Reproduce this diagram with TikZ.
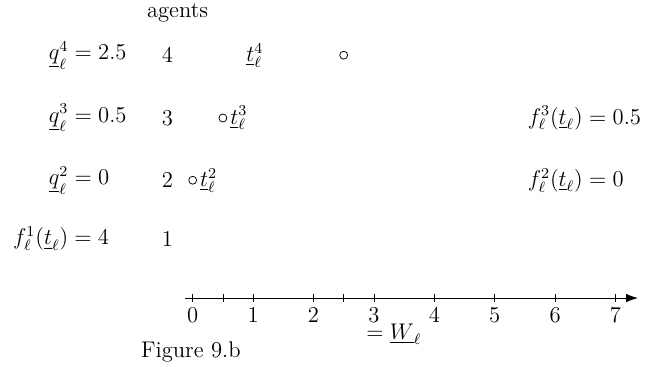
\documentclass[tikz,border=0pt,12pt]{standalone}
\usepackage{amsmath,amssymb}
\usetikzlibrary{arrows.meta,positioning}
\tikzset{
  lbl/.style={inner sep=1pt},
  lft/.style={lbl, anchor=west},
  pt/.style={draw, circle, inner sep=0pt, minimum size=4.2pt, thin},
  ax/.style={-{Latex[length=2.2mm, width=1.6mm]}, thin},
}
\begin{document}
\begin{tikzpicture}[x=1.125cm, y=1.125cm]
  \useasboundingbox (-3.19,-1.126) rectangle (7.687,4.934);
  % axis
  \coordinate (a0) at (-0.13,0);
  \coordinate (a1) at (7.37,0);
  \draw[ax] (a0) -- (a1);
  \foreach \x in {0,...,7} {
    \draw (\x,0.06) -- (\x,-0.06);
    \node[lbl] (tk\x) at (\x,-0.28) {$\x$};
  }
  \foreach \x in {0.5,2.5} \draw (\x,0.06) -- (\x,-0.06);
  \node[lbl] (wl) at (3.33,-0.6) {$=\underline{W}_\ell$};
  \node[lbl] (fig) at (-0.03,-0.9) {Figure 9.b};
  % agents
  \node[lbl] (agt) at (-0.25,4.72) {agents};
  \foreach \k/\y in {4/4.02,3/2.98,2/1.95,1/0.98}
    \node[lbl] (ag\k) at (-0.42,\y) {$\k$};
  % points
  \node[pt] (p4) at (2.5,4.02) {};
  \node[pt] (p3) at (0.5,2.98) {};
  \node[pt] (p2) at (0,1.95) {};
  \node[lft] (t4) at (0.85,4.02) {$\underline{t}_\ell^4$};
  \node[lbl, right=0.5pt of p3] (t3) {$\underline{t}_\ell^3$};
  \node[lbl, right=0.5pt of p2] (t2) {$\underline{t}_\ell^2$};
  % left values
  \node[lft] (q4) at (-2.42,4.02) {$\underline{q}_\ell^4=2.5$};
  \node[lft] (q3) at (-2.42,2.98) {$\underline{q}_\ell^3=0.5$};
  \node[lft] (q2) at (-2.42,1.95) {$\underline{q}_\ell^2=0$};
  \node[lft] (f1) at (-3.01,0.98) {$f_\ell^1(\underline{t}_\ell)=4$};
  % right values
  \node[lft] (f3) at (5.51,2.98) {$f_\ell^3(\underline{t}_\ell)=0.5$};
  \node[lft] (f2) at (5.51,1.95) {$f_\ell^2(\underline{t}_\ell)=0$};
\end{tikzpicture}
\end{document}
